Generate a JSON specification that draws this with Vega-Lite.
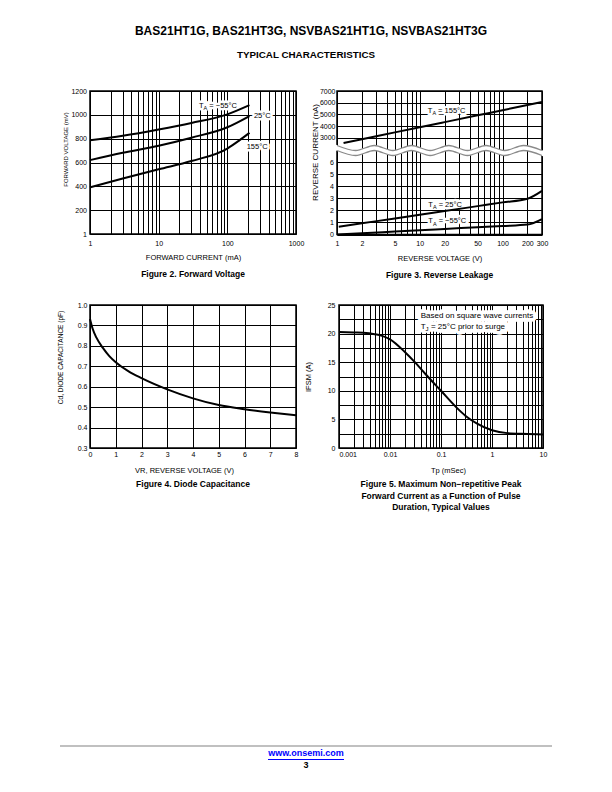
{
"$schema": "https://vega.github.io/schema/vega-lite/v6.json",
"padding": 0,
"background": "white",
"spacing": 0,
"datasets": {
"fv": [
{"x":1,"y":786,"s":"-55"},{"x":3,"y":824,"s":"-55"},{"x":10,"y":877,"s":"-55"},{"x":30,"y":932,"s":"-55"},{"x":100,"y":1004,"s":"-55"},{"x":210,"y":1081,"s":"-55"},
{"x":1,"y":620,"s":"25"},{"x":3,"y":681,"s":"25"},{"x":10,"y":741,"s":"25"},{"x":30,"y":808,"s":"25"},{"x":100,"y":896,"s":"25"},{"x":210,"y":990,"s":"25"},
{"x":1,"y":391,"s":"155"},{"x":3,"y":465,"s":"155"},{"x":10,"y":543,"s":"155"},{"x":30,"y":612,"s":"155"},{"x":100,"y":717,"s":"155"},{"x":150,"y":786,"s":"155"},{"x":210,"y":849,"s":"155"}
],
"fvlab": [
{"x":38.7,"y":1074,"t1":"T","sub":"A","t2":"= −55°C","full":"TA = −55°C"},
{"x":244,"y":990,"t1":"25°C","sub":"","t2":"","full":"25°C"},
{"x":191,"y":733,"t1":"155°C","sub":"","t2":"","full":"155°C"}
],
"rlu": [
{"x":1.2,"y":2549,"s":"155"},{"x":2,"y":2873,"s":"155"},{"x":5,"y":3456,"s":"155"},{"x":10,"y":3896,"s":"155"},{"x":20,"y":4335,"s":"155"},{"x":50,"y":4915,"s":"155"},{"x":100,"y":5355,"s":"155"},{"x":200,"y":5794,"s":"155"},{"x":300,"y":6054,"s":"155"}
],
"rlulab": [
{"x":12.5,"y":5287,"t1":"T","sub":"A","t2":"= 155°C","full":"TA = 155°C"}
],
"rl": [
{"x":1.05,"y":0.64,"s":"25"},{"x":2,"y":0.925,"s":"25"},{"x":5,"y":1.33,"s":"25"},{"x":10,"y":1.64,"s":"25"},{"x":20,"y":1.94,"s":"25"},{"x":50,"y":2.35,"s":"25"},{"x":100,"y":2.66,"s":"25"},{"x":200,"y":2.96,"s":"25"},{"x":300,"y":3.61,"s":"25"},
{"x":1,"y":0,"s":"-55"},{"x":2,"y":0.1,"s":"-55"},{"x":5,"y":0.25,"s":"-55"},{"x":10,"y":0.36,"s":"-55"},{"x":20,"y":0.46,"s":"-55"},{"x":50,"y":0.6,"s":"-55"},{"x":100,"y":0.7,"s":"-55"},{"x":200,"y":0.82,"s":"-55"},{"x":300,"y":1.28,"s":"-55"}
],
"rllab": [
{"x":12.7,"y":2.47,"t1":"T","sub":"A","t2":"= 25°C","full":"TA = 25°C"},
{"x":12.7,"y":1.08,"t1":"T","sub":"A","t2":"= −55°C","full":"TA = −55°C"}
],
"band": [
{"x":1,"y":7.164},{"x":1.68,"y":6.75},{"x":2.82,"y":7.164},{"x":4.73,"y":6.75},{"x":7.94,"y":7.164},{"x":13.4,"y":6.75},{"x":22.4,"y":7.164},{"x":37.7,"y":6.75},{"x":63.2,"y":7.164},{"x":106,"y":6.75},{"x":179,"y":7.164},{"x":300,"y":6.75}
],
"waves": [
{"x":1,"y":7.371,"w":"u"},{"x":1.68,"y":6.957,"w":"u"},{"x":2.82,"y":7.371,"w":"u"},{"x":4.73,"y":6.957,"w":"u"},{"x":7.94,"y":7.371,"w":"u"},{"x":13.4,"y":6.957,"w":"u"},{"x":22.4,"y":7.371,"w":"u"},{"x":37.7,"y":6.957,"w":"u"},{"x":63.2,"y":7.371,"w":"u"},{"x":106,"y":6.957,"w":"u"},{"x":179,"y":7.371,"w":"u"},{"x":300,"y":6.957,"w":"u"},
{"x":1,"y":6.957,"w":"l"},{"x":1.68,"y":6.543,"w":"l"},{"x":2.82,"y":6.957,"w":"l"},{"x":4.73,"y":6.543,"w":"l"},{"x":7.94,"y":6.957,"w":"l"},{"x":13.4,"y":6.543,"w":"l"},{"x":22.4,"y":6.957,"w":"l"},{"x":37.7,"y":6.543,"w":"l"},{"x":63.2,"y":6.957,"w":"l"},{"x":106,"y":6.543,"w":"l"},{"x":179,"y":6.957,"w":"l"},{"x":300,"y":6.543,"w":"l"}
],
"dc": [
{"x":0,"y":0.932},{"x":0.1,"y":0.885},{"x":0.25,"y":0.84},{"x":0.5,"y":0.79},{"x":0.75,"y":0.75},{"x":1,"y":0.72},{"x":1.5,"y":0.675},{"x":2,"y":0.642},{"x":3,"y":0.587},{"x":4,"y":0.543},{"x":5,"y":0.51},{"x":6,"y":0.49},{"x":7,"y":0.474},{"x":8,"y":0.46}
],
"ifsm": [
{"x":0.001,"y":20.3},{"x":0.002,"y":20.2},{"x":0.003,"y":20.15},{"x":0.005,"y":19.9},{"x":0.007,"y":19.6},{"x":0.01,"y":19.0},{"x":0.02,"y":16.7},{"x":0.03,"y":15.1},{"x":0.05,"y":12.9},{"x":0.1,"y":10.0},{"x":0.2,"y":7.1},{"x":0.3,"y":5.65},{"x":0.5,"y":4.3},{"x":1,"y":3.1},{"x":2,"y":2.6},{"x":5,"y":2.45},{"x":10,"y":2.35}
],
"ifsmlab": [
{"x":0.04,"y":23.0,"t1":"Based on square wave currents","sub":"","t2":"","full":"Based on square wave currents\u00a0"},
{"x":0.04,"y":21.15,"t1":"T","sub":"J","t2":"= 25°C prior to surge","full":"TJ = 25°C prior to surge\u00a0\u00a0\u00a0\u00a0\u00a0\u00a0\u00a0\u00a0\u00a0\u00a0\u00a0\u00a0\u00a0"}
]
},
"config": {
"font": "Liberation Sans",
"view": {"stroke": "black", "strokeWidth": 1.5},
"text": {"font": "Liberation Sans"},
"axis": {"labelFont": "Liberation Sans", "titleFont": "Liberation Sans", "labelColor": "black", "titleColor": "black", "labelFontSize": 7, "titleFontSize": 7.5, "titleFontWeight": "normal", "grid": true, "gridColor": "black", "gridOpacity": 1, "gridWidth": 1, "ticks": false, "tickSize": 0, "domain": false, "labelOverlap": false, "labelBound": false, "labelFlush": false},
"title": {"font": "Liberation Sans", "fontSize": 8.5, "fontWeight": "bold", "color": "black", "orient": "bottom", "anchor": "middle", "frame": "group"}
},
"vconcat": [
{"width": 612, "height": 86, "view": {"stroke": null, "fill": "white"}, "layer": [
 {"data": {"values": [{"t": "BAS21HT1G, BAS21HT3G, NSVBAS21HT1G, NSVBAS21HT3G"}]}, "mark": {"type": "text", "fontSize": 12, "fontWeight": "bold", "baseline": "middle", "dy": -12.4, "dx": 5, "color": "black"}, "encoding": {"text": {"field": "t", "type": "nominal"}}},
 {"data": {"values": [{"t": "TYPICAL CHARACTERISTICS"}]}, "mark": {"type": "text", "fontSize": 9.8, "fontWeight": "bold", "baseline": "middle", "dy": 12, "color": "black"}, "encoding": {"text": {"field": "t", "type": "nominal"}}}
]},
{"hconcat": [
 {"width": 90, "height": 209, "data": {"values": []}, "mark": "point", "view": {"stroke": null}},
 {
  "width": 206, "height": 143,
  "title": {"text": "Figure 2. Forward Voltage", "offset": 9},
  "encoding": {
   "x": {"field": "x", "type": "quantitative", "scale": {"type": "log", "domain": [1, 1000], "nice": false},
         "axis": {"title": "FORWARD CURRENT (mA)", "values": [1,2,3,4,5,6,7,8,9,10,20,30,40,50,60,70,80,90,100,200,300,400,500,600,700,800,900,1000],
                  "labelExpr": "indexof([1,10,100,1000], datum.value) >= 0 ? format(datum.value, 'd') : ''",
                  "labelPadding": 5, "titlePadding": 7.5}},
   "y": {"field": "y", "type": "quantitative", "scale": {"domain": [0, 1200], "nice": false, "zero": false},
         "axis": {"title": "FORWARD VOLTAGE (mV)", "values": [0,200,400,600,800,1000,1200],
                  "labelExpr": "datum.value == 0 ? '1' : format(datum.value, 'd')",
                  "labelPadding": 3.5, "titlePadding": 2.5, "titleFontSize": 6, "titleY": 58}}
  },
  "layer": [
   {"data": {"name": "fvlab"}, "mark": {"type": "text", "align": "left", "baseline": "middle", "fontSize": 7.5, "fill": "white", "stroke": "white", "strokeWidth": 5, "strokeJoin": "round"}, "encoding": {"text": {"field": "full", "type": "nominal"}}},
   {"data": {"name": "fv"}, "mark": {"type": "line", "color": "black", "strokeWidth": 2, "interpolate": "monotone"}, "encoding": {"detail": {"field": "s", "type": "nominal"}}},
   {"data": {"name": "fvlab"}, "mark": {"type": "text", "align": "left", "baseline": "middle", "fontSize": 7.5, "color": "black"}, "encoding": {"text": {"field": "t1", "type": "nominal"}}},
   {"data": {"name": "fvlab"}, "mark": {"type": "text", "align": "left", "baseline": "middle", "fontSize": 5.5, "color": "black", "dx": 4.6, "dy": 2.2}, "encoding": {"text": {"field": "sub", "type": "nominal"}}},
   {"data": {"name": "fvlab"}, "mark": {"type": "text", "align": "left", "baseline": "middle", "fontSize": 7.5, "color": "black", "dx": 10.3}, "encoding": {"text": {"field": "t2", "type": "nominal"}}}
  ]
 },
 {"width": 41, "height": 1, "data": {"values": []}, "mark": "point", "view": {"stroke": null}},
 {
  "width": 205, "height": 143.5,
  "title": {"text": "Figure 3. Reverse Leakage", "offset": 9},
  "encoding": {
   "x": {"field": "x", "type": "quantitative", "scale": {"type": "log", "domain": [1, 300], "nice": false},
         "axis": {"title": "REVERSE VOLTAGE (V)", "grid": true, "values": [1,2,3,4,5,6,7,8,9,10,20,30,40,50,60,70,80,90,100,200,300],
                  "labelExpr": "indexof([1,2,5,10,20,50,100,200,300], datum.value) >= 0 ? format(datum.value, 'd') : ''",
                  "labelPadding": 5, "titlePadding": 7.5}}
  },
  "layer": [
   {
    "encoding": {"y": {"field": "y", "type": "quantitative", "scale": {"domain": [-5285.6, 7000], "nice": false, "zero": false},
                       "axis": {"orient": "left", "grid": true, "title": null, "values": [3000,4000,5000,6000,7000], "format": "d", "labelPadding": 2}}},
    "layer": [
     {"data": {"name": "rlulab"}, "mark": {"type": "text", "align": "left", "baseline": "middle", "fontSize": 7.5, "fill": "white", "stroke": "white", "strokeWidth": 5, "strokeJoin": "round"}, "encoding": {"text": {"field": "full", "type": "nominal"}}},
     {"data": {"name": "rlu"}, "mark": {"type": "line", "color": "black", "strokeWidth": 2, "interpolate": "monotone"}},
     {"data": {"name": "rlulab"}, "mark": {"type": "text", "align": "left", "baseline": "middle", "fontSize": 7.5, "color": "black"}, "encoding": {"text": {"field": "t1", "type": "nominal"}}},
     {"data": {"name": "rlulab"}, "mark": {"type": "text", "align": "left", "baseline": "middle", "fontSize": 5.5, "color": "black", "dx": 4.6, "dy": 2.2}, "encoding": {"text": {"field": "sub", "type": "nominal"}}},
     {"data": {"name": "rlulab"}, "mark": {"type": "text", "align": "left", "baseline": "middle", "fontSize": 7.5, "color": "black", "dx": 10.3}, "encoding": {"text": {"field": "t2", "type": "nominal"}}}
    ]
   },
   {
    "encoding": {"y": {"field": "y", "type": "quantitative", "scale": {"domain": [0, 11.885], "nice": false, "zero": false},
                       "axis": {"orient": "left", "grid": true, "title": "REVERSE CURRENT (nA)", "values": [0,1,2,3,4,5,6], "format": "d", "labelPadding": 3.5, "titlePadding": 10.5, "titleFontSize": 8, "titleY": 61}}},
    "layer": [
     {"data": {"name": "rllab"}, "mark": {"type": "text", "align": "left", "baseline": "middle", "fontSize": 7.5, "fill": "white", "stroke": "white", "strokeWidth": 5, "strokeJoin": "round"}, "encoding": {"text": {"field": "full", "type": "nominal"}}},
     {"data": {"name": "rl"}, "mark": {"type": "line", "color": "black", "strokeWidth": 2, "interpolate": "monotone"}, "encoding": {"detail": {"field": "s", "type": "nominal"}}},
     {"data": {"name": "band"}, "mark": {"type": "line", "color": "white", "strokeWidth": 5.2, "strokeCap": "square", "interpolate": "monotone"}},
     {"data": {"name": "waves"}, "mark": {"type": "line", "color": "#8a8a8a", "strokeWidth": 1.3, "interpolate": "monotone"}, "encoding": {"detail": {"field": "w", "type": "nominal"}}},
     {"data": {"name": "rllab"}, "mark": {"type": "text", "align": "left", "baseline": "middle", "fontSize": 7.5, "color": "black"}, "encoding": {"text": {"field": "t1", "type": "nominal"}}},
     {"data": {"name": "rllab"}, "mark": {"type": "text", "align": "left", "baseline": "middle", "fontSize": 5.5, "color": "black", "dx": 4.6, "dy": 2.2}, "encoding": {"text": {"field": "sub", "type": "nominal"}}},
     {"data": {"name": "rllab"}, "mark": {"type": "text", "align": "left", "baseline": "middle", "fontSize": 7.5, "color": "black", "dx": 10.3}, "encoding": {"text": {"field": "t2", "type": "nominal"}}}
    ]
   }
  ],
  "resolve": {"scale": {"y": "independent"}}
 }
], "bounds": "flush", "spacing": 0},
{"hconcat": [
 {"width": 90, "height": 440, "data": {"values": []}, "mark": "point", "view": {"stroke": null}},
 {
  "width": 206, "height": 143,
  "title": {"text": "Figure 4. Diode Capacitance", "offset": 6},
  "data": {"name": "dc"},
  "mark": {"type": "line", "color": "black", "strokeWidth": 2, "interpolate": "monotone"},
  "encoding": {
   "x": {"field": "x", "type": "quantitative", "scale": {"domain": [0, 8], "nice": false},
         "axis": {"title": "VR, REVERSE VOLTAGE (V)", "values": [0,1,2,3,4,5,6,7,8], "format": "d", "labelPadding": 2, "titlePadding": 9.8, "titleX": 94}},
   "y": {"field": "y", "type": "quantitative", "scale": {"domain": [0.3, 1.0], "nice": false, "zero": false},
         "axis": {"title": "Cd, DIODE CAPACITANCE (pF)", "values": [0.3,0.4,0.5,0.6,0.7,0.8,0.9,1.0], "format": ".1f", "labelPadding": 3, "titlePadding": 13.6, "titleFontSize": 6.5, "titleY": 52}}
  }
 },
 {"width": 43, "height": 1, "data": {"values": []}, "mark": "point", "view": {"stroke": null}},
 {
  "width": 204, "height": 143,
  "title": {"text": ["Figure 5. Maximum Non−repetitive Peak", "Forward Current as a Function of Pulse", "Duration, Typical Values"], "offset": 6, "lineHeight": 11.5},
  "encoding": {
   "x": {"field": "x", "type": "quantitative", "scale": {"type": "log", "domain": [0.001, 10], "nice": false},
         "axis": {"title": "Tp (mSec)", "values": [0.001,0.002,0.003,0.004,0.005,0.006,0.007,0.008,0.009,0.01,0.02,0.03,0.04,0.05,0.06,0.07,0.08,0.09,0.1,0.2,0.3,0.4,0.5,0.6,0.7,0.8,0.9,1,2,3,4,5,6,7,8,9,10],
                  "labelExpr": "indexof([0.001,0.01,0.1,1,10], datum.value) >= 0 ? format(datum.value, '~g') : ''",
                  "labelAlign": {"condition": {"test": "datum.value == 0.001", "value": "left"}, "value": "center"},
                  "labelPadding": 2, "titlePadding": 9.8, "titleX": 109}},
   "y": {"field": "y", "type": "quantitative", "scale": {"domain": [0, 25], "nice": false, "zero": false},
         "axis": {"title": "IFSM (A)", "values": [0,2.5,5,7.5,10,12.5,15,17.5,20,22.5,25],
                  "labelExpr": "datum.value % 5 == 0 ? format(datum.value, 'd') : ''",
                  "labelPadding": 4, "titlePadding": 15}}
  },
  "layer": [
   {"data": {"name": "ifsmlab"}, "mark": {"type": "text", "align": "left", "baseline": "middle", "fontSize": 8, "fill": "white", "stroke": "white", "strokeWidth": 7.5, "strokeJoin": "round"}, "encoding": {"text": {"field": "full", "type": "nominal"}}},
   {"data": {"name": "ifsm"}, "mark": {"type": "line", "color": "black", "strokeWidth": 2, "interpolate": "monotone"}},
   {"data": {"name": "ifsmlab"}, "mark": {"type": "text", "align": "left", "baseline": "middle", "fontSize": 8, "color": "black"}, "encoding": {"text": {"field": "t1", "type": "nominal"}}},
   {"data": {"name": "ifsmlab"}, "mark": {"type": "text", "align": "left", "baseline": "middle", "fontSize": 6, "color": "black", "dx": 4.9, "dy": 2.3}, "encoding": {"text": {"field": "sub", "type": "nominal"}}},
   {"data": {"name": "ifsmlab"}, "mark": {"type": "text", "align": "left", "baseline": "middle", "fontSize": 8, "color": "black", "dx": 10.2}, "encoding": {"text": {"field": "t2", "type": "nominal"}}}
  ]
 }
], "bounds": "flush", "spacing": 0},
{"hconcat": [
 {"width": 60, "height": 2, "data": {"values": []}, "mark": "point", "view": {"stroke": null}},
 {"width": 492, "height": 2, "data": {"values": []}, "mark": "point", "view": {"stroke": null, "fill": "#c0c0c0"}}
], "bounds": "flush", "spacing": 0},
{"hconcat": [
 {"width": 60, "height": 11, "data": {"values": []}, "mark": "point", "view": {"stroke": null}},
 {"width": 492, "height": 11, "view": {"stroke": null}, "data": {"values": [{"t": "www.onsemi.com"}]}, "mark": {"type": "text", "fontSize": 9, "fontWeight": "bold", "color": "#0000ff", "baseline": "middle", "dy": 0.8}, "encoding": {"text": {"field": "t", "type": "nominal"}}}
], "bounds": "flush", "spacing": 0},
{"hconcat": [
 {"width": 268, "height": 1, "data": {"values": []}, "mark": "point", "view": {"stroke": null}},
 {"width": 76, "height": 1, "data": {"values": []}, "mark": "point", "view": {"stroke": null, "fill": "#0000ff"}}
], "bounds": "flush", "spacing": 0},
{"hconcat": [
 {"width": 60, "height": 10, "data": {"values": []}, "mark": "point", "view": {"stroke": null}},
 {"width": 492, "height": 10, "view": {"stroke": null}, "data": {"values": [{"t": "3"}]}, "mark": {"type": "text", "fontSize": 9, "fontWeight": "bold", "color": "black", "baseline": "middle", "dy": -0.5}, "encoding": {"text": {"field": "t", "type": "nominal"}}}
], "bounds": "flush", "spacing": 0}
]
}
